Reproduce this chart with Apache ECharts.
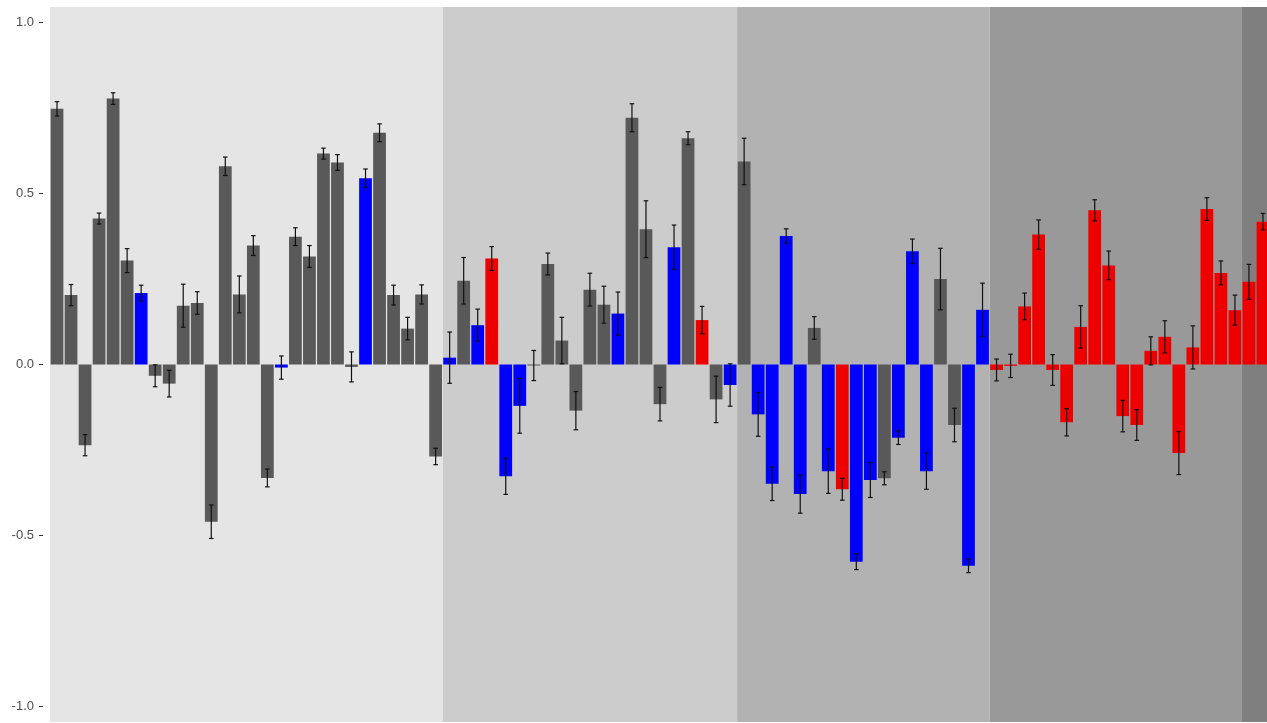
<!DOCTYPE html>
<html>
<head>
<meta charset="utf-8">
<script src="https://cdn.jsdelivr.net/npm/echarts@6/dist/echarts.min.js"></script>
<style>
  html, body { margin: 0; padding: 0; background: #fff; overflow: hidden; }
  /* a few px wider than the window: the last bar is cut off at the edge */
  #chart { width: 1270px; height: 723px; }
</style>
</head>
<body>
<div id="chart"></div>
<script>
// bar heights, read left to right
const values = [
  0.748, 0.203, -0.236, 0.427, 0.778, 0.304, 0.209, -0.033, -0.056, 0.172,
  0.18, -0.46, 0.58, 0.205, 0.348, -0.332, -0.009, 0.374, 0.316, 0.617,
  0.591, -0.007, 0.545, 0.678, 0.203, 0.105, 0.205, -0.269,
  0.02, 0.245, 0.115, 0.31, -0.327, -0.121, -0.003, 0.294, 0.07, -0.135,
  0.219, 0.175, 0.149, 0.722, 0.396, -0.116, 0.343, 0.662, 0.13, -0.102, -0.06,
  0.594, -0.146, -0.349, 0.376, -0.379, 0.107, -0.312, -0.365, -0.577, -0.338,
  -0.333, -0.214, 0.331, -0.312, 0.25, -0.177, -0.589, 0.16,
  -0.016, -0.004, 0.17, 0.38, -0.016, -0.169, 0.11, 0.451, 0.29, -0.151,
  -0.177, 0.04, 0.081, -0.259, 0.05, 0.455, 0.268, 0.159,
  0.242, 0.418
]
// half length of each error bar
const errors = [
  0.021, 0.031, 0.031, 0.016, 0.017, 0.035, 0.023, 0.032, 0.039, 0.063,
  0.033, 0.049, 0.027, 0.054, 0.029, 0.026, 0.034, 0.026, 0.032, 0.016,
  0.023, 0.044, 0.027, 0.026, 0.029, 0.033, 0.028, 0.024,
  0.075, 0.068, 0.047, 0.035, 0.053, 0.08, 0.044, 0.032, 0.068, 0.056,
  0.048, 0.054, 0.063, 0.041, 0.083, 0.049, 0.065, 0.019, 0.04, 0.068, 0.062,
  0.068, 0.064, 0.049, 0.021, 0.056, 0.033, 0.065, 0.032, 0.023, 0.051,
  0.019, 0.02, 0.036, 0.053, 0.09, 0.049, 0.02, 0.078,
  0.032, 0.034, 0.039, 0.043, 0.045, 0.04, 0.062, 0.031, 0.042, 0.046,
  0.045, 0.041, 0.047, 0.063, 0.063, 0.033, 0.035, 0.044,
  0.051, 0.024
]
// g = grey, b = blue, r = red
const groups = (
  'ggggggbgggggggggbgggggbggggg' +
  'bgbrbbggggggbgggbgrgb' +
  'gbbbbgbrbbgbbbggbb' +
  'rrrrrrrrrrrrrrrrrr' +
  'rr'
).split('')
// background blocks: first and last category index
const blocks = [[0, 27], [28, 48], [49, 66], [67, 84], [85, 86]]
const yTicks = [-1, -0.5, 0, 0.5, 1]
const categories = values.map((v, i) => 'c' + (i + 1))

const groupColor = { g: '#595959', b: '#0000ff', r: '#ee0000' }
const blockColor = ['#e5e5e5', '#cccccc', '#b2b2b2', '#999999', '#7f7f7f']

const chart = echarts.init(document.getElementById('chart'))
chart.setOption({
  animation: false,
  grid: { left: 50, right: 0, top: 7, bottom: 1 },
  xAxis: {
    type: 'category',
    data: categories,
    show: false
  },
  yAxis: {
    type: 'value',
    min: -1.046,
    max: 1.046,
    offset: 7,
    axisLine: { show: false },
    splitLine: { show: false },
    axisTick: {
      show: true,
      length: 4,
      customValues: yTicks,
      lineStyle: { color: '#333333', width: 1 }
    },
    axisLabel: {
      customValues: yTicks,
      formatter: (v) => v.toFixed(1),
      color: '#4d4d4d',
      fontSize: 13,
      fontFamily: 'Liberation Sans, Arial, sans-serif',
      margin: 9
    }
  },
  series: [
    {
      // grey background blocks
      type: 'custom',
      z: 0,
      silent: true,
      clip: true,
      data: blocks.map((b, i) => [b[0], b[1], i]),
      encode: { x: [0, 1] },
      renderItem(params, api) {
        const cs = params.coordSys
        const bw = api.size([1, 0])[0]
        const x0 = api.coord([api.value(0), 0])[0] - bw / 2
        const x1 = api.coord([api.value(1), 0])[0] + bw / 2
        return {
          type: 'rect',
          shape: { x: x0, y: cs.y, width: x1 - x0, height: cs.height },
          style: { fill: blockColor[api.value(2)] }
        }
      }
    },
    {
      type: 'bar',
      z: 2,
      barWidth: '91%',
      data: values.map((v, i) => ({
        value: v,
        itemStyle: { color: groupColor[groups[i]] }
      }))
    },
    {
      // error bars
      type: 'custom',
      z: 3,
      silent: true,
      data: values.map((v, i) => [i, v, errors[i]]),
      encode: { x: 0, y: 1 },
      renderItem(params, api) {
        const i = api.value(0)
        const v = api.value(1)
        const e = api.value(2)
        const top = api.coord([i, v + e])
        const bot = api.coord([i, v - e])
        const cap = 2.3
        const style = { stroke: '#111', lineWidth: 1.2 }
        return {
          type: 'group',
          children: [
            { type: 'line', shape: { x1: top[0], y1: top[1], x2: bot[0], y2: bot[1] }, style },
            { type: 'line', shape: { x1: top[0] - cap, y1: top[1], x2: top[0] + cap, y2: top[1] }, style },
            { type: 'line', shape: { x1: bot[0] - cap, y1: bot[1], x2: bot[0] + cap, y2: bot[1] }, style }
          ]
        }
      }
    }
  ]
})
</script>
</body>
</html>
